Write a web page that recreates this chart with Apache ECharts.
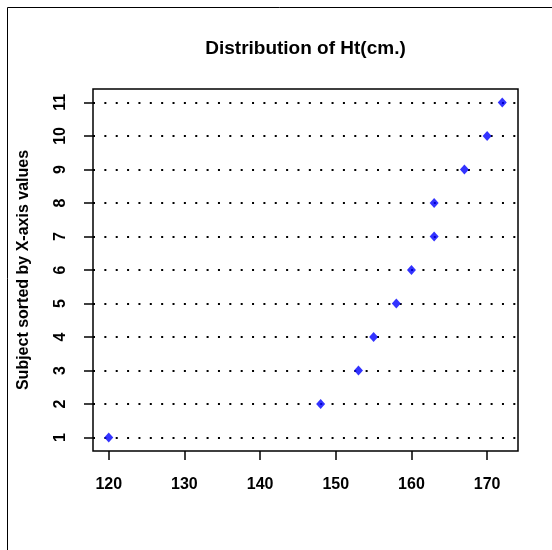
<!DOCTYPE html>
<html>
<head>
<meta charset="utf-8">
<script src="https://cdn.jsdelivr.net/npm/echarts@6/dist/echarts.min.js"></script>
<style>
  html, body { margin: 0; padding: 0; background: #fff; }
  #chart { width: 552px; height: 550px; }
</style>
</head>
<body>
<div id="chart"></div>
<script>
// subject rank (sorted by x value) and height in cm
const subjects = [1, 2, 3, 4, 5, 6, 7, 8, 9, 10, 11];
const heights  = [120, 148, 153, 155, 158, 160, 163, 163, 167, 170, 172];
const xTicks   = [120, 130, 140, 150, 160, 170];

const FONT = 'Liberation Sans, Arial, sans-serif';

let points = [];
subjects.forEach((s, i) => {
    points.push([heights[i], s]);
});

const chart = echarts.init(document.getElementById('chart'));

chart.setOption({
    animation: false,
    backgroundColor: '#fff',
    graphic: [
        { type: 'line', shape: { x1: 7.5, y1: 7.5, x2: 552, y2: 7.5 }, style: { stroke: '#000', lineWidth: 1 } },
        { type: 'line', shape: { x1: 7.5, y1: 7.5, x2: 7.5, y2: 550 }, style: { stroke: '#000', lineWidth: 1 } },
        {
            type: 'text', x: 305.5, y: 49,
            style: {
                text: 'Distribution of Ht(cm.)',
                align: 'center', verticalAlign: 'middle',
                font: 'bold 19px ' + FONT, fill: '#000'
            }
        }
    ],
    grid: {
        left: 93, top: 89, width: 425, height: 362,
        show: true, borderColor: '#000', borderWidth: 1.5,
        containLabel: false
    },
    xAxis: {
        type: 'value',
        min: 117.92, max: 174.08,
        axisLine: { show: false },
        axisTick: { show: true, length: 9, customValues: xTicks, lineStyle: { color: '#000', width: 1.5 } },
        axisLabel: {
            customValues: xTicks, margin: 26,
            color: '#000', fontFamily: FONT, fontWeight: 'bold', fontSize: 16
        },
        splitLine: { show: false }
    },
    yAxis: {
        type: 'value',
        min: 0.6, max: 11.4,
        name: 'Subject sorted by X-axis values',
        nameLocation: 'middle', nameGap: 61,
        nameTextStyle: { color: '#000', fontFamily: FONT, fontWeight: 'bold', fontSize: 16 },
        axisLine: { show: false },
        axisTick: { show: true, length: 9, customValues: subjects, lineStyle: { color: '#000', width: 1.5 } },
        axisLabel: {
            customValues: subjects, rotate: 90, margin: 24,
            color: '#000', fontFamily: FONT, fontWeight: 'bold', fontSize: 16
        },
        splitLine: {
            show: true, customValues: subjects,
            lineStyle: { color: '#000', width: 2, type: [2, 9.36] }
        }
    },
    series: [
        {
            type: 'scatter',
            data: points,
            symbol: 'diamond',
            symbolSize: [9, 10],
            itemStyle: { color: '#0000ff' },
            z: 5
        }
    ]
});
</script>
</body>
</html>
